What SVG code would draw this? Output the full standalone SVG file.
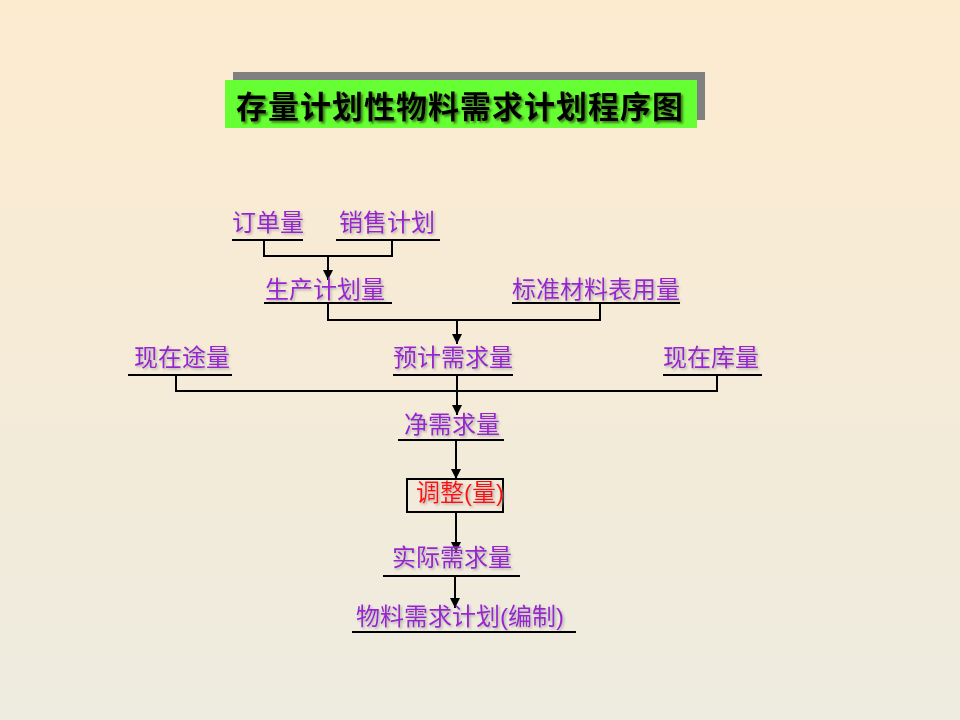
<svg xmlns="http://www.w3.org/2000/svg" width="960" height="720" viewBox="0 0 960 720">
<defs>
<linearGradient id="bg" x1="0" y1="0" x2="0" y2="1">
<stop offset="0" stop-color="#FDEBD0"/>
<stop offset="1" stop-color="#EDEBDF"/>
</linearGradient>
<filter id="sh" x="-10%" y="-30%" width="120%" height="160%">
<feDropShadow dx="1.5" dy="1.5" stdDeviation="0.8" flood-color="#A0A0A0" flood-opacity="0.8"/>
</filter>
<filter id="tsh" x="-10%" y="-30%" width="120%" height="160%">
<feDropShadow dx="2" dy="2" stdDeviation="1" flood-color="#2A5A10" flood-opacity="0.8"/>
</filter>
<marker id="arr" viewBox="0 0 10 10" refX="10" refY="5" markerWidth="5" markerHeight="5" orient="auto" markerUnits="strokeWidth">
<path d="M0,0 L10,5 L0,10 Z" fill="#000"/>
</marker>
<style>
.lbl{font-family:"Liberation Sans","Noto Sans CJK SC",sans-serif;font-size:24px;fill:#9A22D0;filter:url(#sh)}
.red{fill:#FF1010}
.ul{stroke:#000;stroke-width:2;fill:none}
.ln{stroke:#000;stroke-width:2;fill:none}
.ttl{font-family:"Noto Sans CJK SC",sans-serif;font-weight:bold;font-size:31px;fill:#000;filter:url(#tsh)}
</style>
</defs>
<rect width="960" height="720" fill="url(#bg)"/>

<g id="title">
<rect x="233" y="72" width="472" height="48" fill="#808080"/>
<rect x="225" y="80" width="472" height="48" fill="#66FF33"/>
<text class="ttl" x="236" y="118" textLength="447" lengthAdjust="spacing">存量计划性物料需求计划程序图</text>
</g>

<g id="connectors">
<path class="ln" d="M264,240 V256 H392 V240"/>
<path class="ln" d="M328,256 V280" marker-end="url(#arr)"/>
<path class="ln" d="M328,303 V320 H600 V303"/>
<path class="ln" d="M457,320 V344" marker-end="url(#arr)"/>
<path class="ln" d="M176,375 V391 H717 V375"/>
<path class="ln" d="M457,375 V415" marker-end="url(#arr)"/>
<path class="ln" d="M456,440 V479" marker-end="url(#arr)"/>
<path class="ln" d="M456,512 V552" marker-end="url(#arr)"/>
<path class="ln" d="M455,576 V608" marker-end="url(#arr)"/>
</g>

<g id="n-order">
<text class="lbl" x="232" y="231">订单量</text>
<line class="ul" x1="232" y1="240" x2="303" y2="240"/>
</g>
<g id="n-sales">
<text class="lbl" x="339" y="231">销售计划</text>
<line class="ul" x1="336" y1="240" x2="440" y2="240"/>
</g>
<g id="n-prod">
<text class="lbl" x="265" y="298">生产计划量</text>
<line class="ul" x1="264" y1="303" x2="392" y2="303"/>
</g>
<g id="n-std">
<text class="lbl" x="512" y="298">标准材料表用量</text>
<line class="ul" x1="512" y1="303" x2="680" y2="303"/>
</g>
<g id="n-transit">
<text class="lbl" x="134" y="366">现在途量</text>
<line class="ul" x1="128" y1="375" x2="232" y2="375"/>
</g>
<g id="n-est">
<text class="lbl" x="393" y="366">预计需求量</text>
<line class="ul" x1="393" y1="375" x2="513" y2="375"/>
</g>
<g id="n-stock">
<text class="lbl" x="663" y="366">现在库量</text>
<line class="ul" x1="663" y1="375" x2="762" y2="375"/>
</g>
<g id="n-net">
<text class="lbl" x="404" y="433">净需求量</text>
<line class="ul" x1="398" y1="440" x2="504" y2="440"/>
</g>
<g id="n-adjust">
<rect x="407" y="479" width="96" height="33" fill="none" stroke="#000" stroke-width="2"/>
<text class="lbl red" x="416" y="501">调整(量)</text>
</g>
<g id="n-actual">
<text class="lbl" x="392" y="566">实际需求量</text>
<line class="ul" x1="383" y1="576" x2="520" y2="576"/>
</g>
<g id="n-mrp">
<text class="lbl" x="356" y="625">物料需求计划(编制)</text>
<line class="ul" x1="352" y1="632" x2="576" y2="632"/>
</g>
</svg>
